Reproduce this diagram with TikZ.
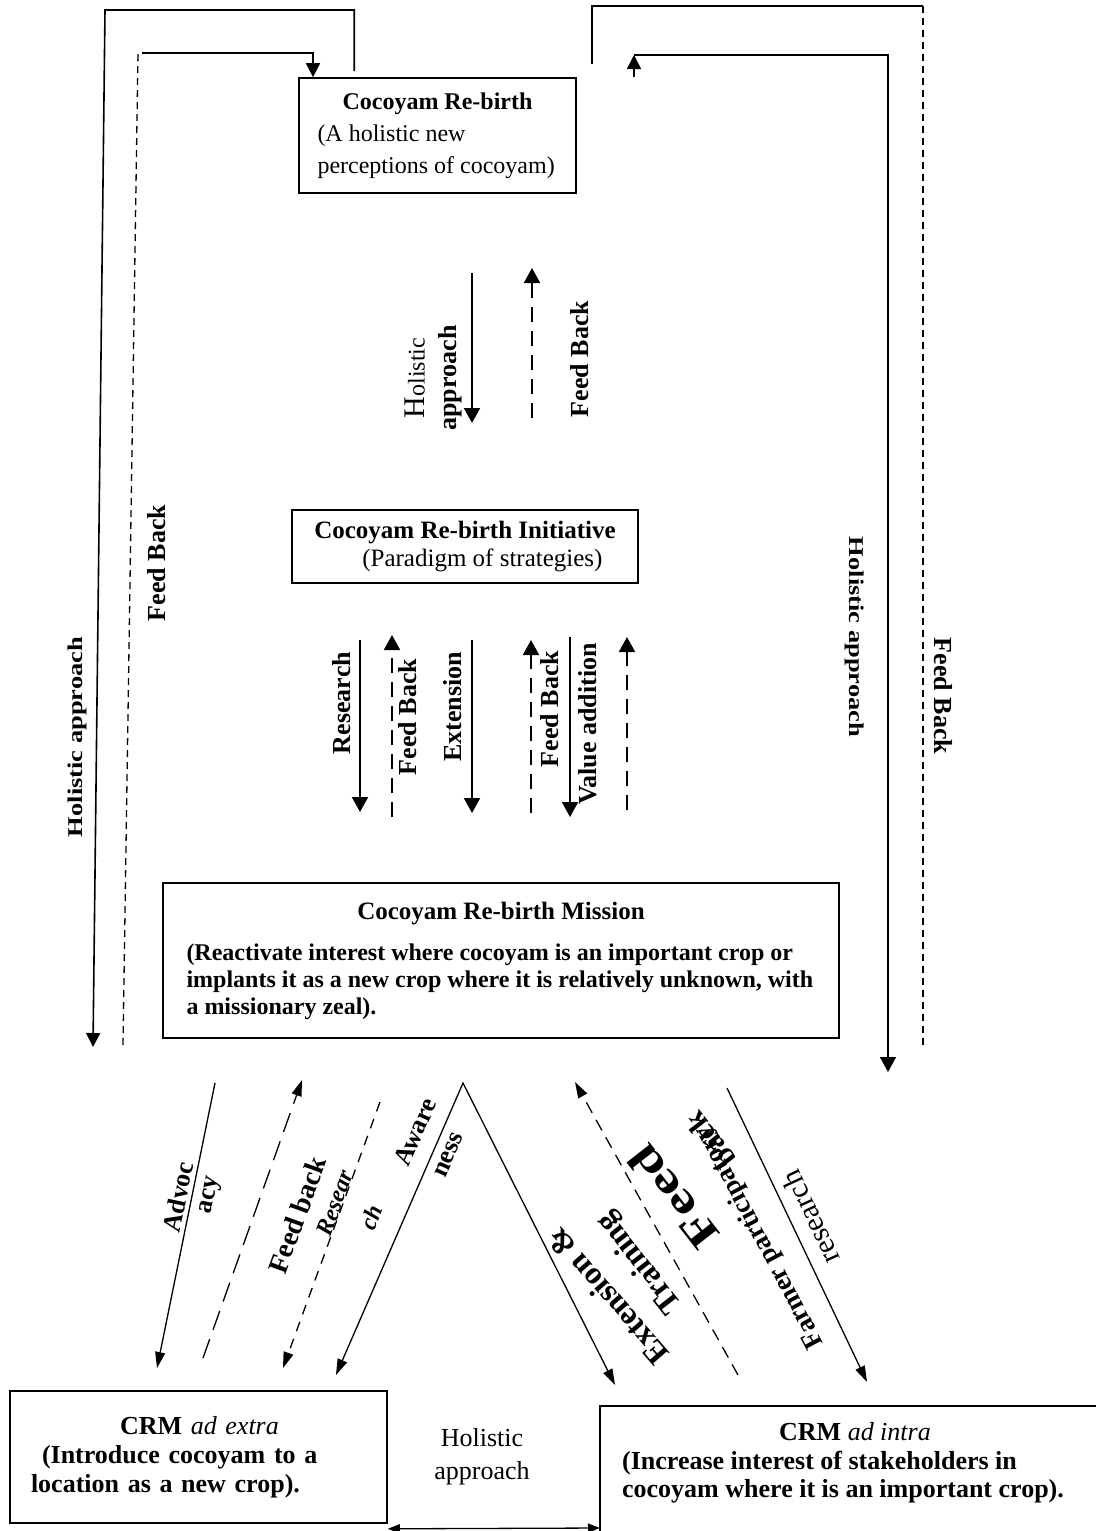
\documentclass[tikz,border=0pt]{standalone}
\usepackage{fontspec}
\setmainfont{Liberation Serif}
\usetikzlibrary{arrows.meta,calc}
\newcommand{\sz}[2]{\fontsize{#1}{#2}\selectfont}
\tikzset{
  box/.style={draw, line width=1.6pt, inner sep=0pt},
  ln/.style={line width=1.6pt},
  thin/.style={line width=1.3pt},
  tipA/.style={-{Triangle[width=14pt,length=14pt]}},
  tipB/.style={-{Triangle[width=16pt,length=15pt]}},
  tipC/.style={-{Triangle[width=10pt,length=16pt]}},
  dshA/.style={line width=1.3pt, dash pattern=on 7pt off 5pt},
  dshB/.style={line width=2pt, dash pattern=on 15pt off 9pt},
  lbl/.style={font=\bfseries\sz{26}{26}, inner sep=0pt},
}
\begin{document}
\begin{tikzpicture}[x=1pt,y=-1pt]
\useasboundingbox (0,0) rectangle (1096,1531);

% ---------- boxes ----------
\node[box, minimum width=277pt, minimum height=115pt, align=left, font=\sz{24}{32}] (rb) at (437.5,135.5)
  {\makebox[240pt][c]{\bfseries Cocoyam Re-birth}\\(A holistic new\\perceptions of cocoyam)};

\node[box, minimum width=346pt, minimum height=73pt, align=left, font=\sz{25}{28}] (ini) at (465,546.5)
  {\textbf{Cocoyam Re-birth Initiative}\\\hspace*{48pt}(Paradigm of strategies)};

\node[box, minimum width=676pt, minimum height=155pt, align=left, font=\bfseries\sz{24}{27}] (ms) at (501,960.5)
  {\makebox[629pt][c]{\sz{25}{27}Cocoyam Re-birth Mission}\\[14pt](Reactivate interest where cocoyam is an important crop or\\implants it as a new crop where it is relatively unknown, with\\a missionary zeal).};

\node[box, text width=357pt, inner sep=10pt, minimum height=132pt, align=left, font=\bfseries\sz{26}{29}] (extra) at (198.5,1457)
  {\hspace*{100pt}CRM \textit{\mdseries ad extra}\\\hspace*{22pt}(Introduce cocoyam to a\\\hspace*{11pt}location as a new crop).};

\node[align=left, inner sep=0pt, font=\bfseries\sz{26}{28.5}] (intra) at (843,1463)
  {\hspace*{157pt}CRM \textit{\mdseries ad intra}\\(Increase interest of stakeholders in\\cocoyam where it is an important crop).};
\draw[ln] (600,1531) -- (600,1406) -- (1096,1406);

\node[align=center, inner sep=0pt, font=\sz{26}{33}] (ha) at (482,1457) {Holistic\\approach};

% ---------- coordinates ----------
\coordinate (la) at (93,1047);
\coordinate (lf) at (123,1045);
\coordinate (ra) at (888,1072);
\coordinate (rf) at (923,1047);
\coordinate (c1) at (313,53);
\coordinate (c2) at (634,55);

% ---------- outer loops ----------
\draw[ln, tipA] ($(rb.north west)+(56,-6)$) |- (105,10) -- (la);
\draw[dshA] (lf) -- (138,53);
\draw[ln, tipA] (142,53) -- (c1) -- (c1 |- rb.north);
\draw[ln] ($(rb.north west)+(294,-13)$) |- (923,6);
\draw[dshA] (923,6) -- (rf);
\draw[ln, tipA] (c2 |- rb.north) -- (c2);
\draw[ln, tipB] (c2) -- (888,55) -- (ra);

% side labels
\node[lbl, rotate=90] (lha) at (77,737) {\sz{21}{21}\scalebox{1.26}[1]{Holistic approach}};
\node[lbl, rotate=90] (lfb) at (157,563) {Feed Back};
\node[lbl, rotate=-90] (rha) at (855,637) {\sz{21}{21}\scalebox{1.26}[1]{Holistic approach}};
\node[lbl, rotate=-90] (rfb) at (943,696) {Feed Back};

% ---------- rb -> ini ----------
\coordinate (m1a) at (472,273); \coordinate (m1b) at (472,423);
\coordinate (m2a) at (532,418); \coordinate (m2b) at (532,268);
\draw[line width=2pt, tipB] (m1a) -- (m1b);
\draw[dshB, tipB] (m2a) -- (m2b);
\node[inner sep=0pt, rotate=90, font=\sz{24}{24}] (hol) at (415,378) {{\sz{30}{30}H}olistic};
\node[lbl, rotate=90] (app) at (450,378) {approach};
\node[lbl, rotate=90] (fbt) at (580,359) {Feed Back};

% ---------- ini -> ms ----------
\coordinate (r1) at (360,640); \coordinate (r2) at (360,812);
\coordinate (f1) at (392,817); \coordinate (f2) at (392,635);
\coordinate (e1) at (472,640); \coordinate (e2) at (472,813);
\coordinate (g1) at (531,813); \coordinate (g2) at (531,640);
\coordinate (v1) at (570,637); \coordinate (v2) at (570,817);
\coordinate (d1) at (627,810); \coordinate (d2) at (627,637);
\draw[line width=2pt, tipB] (r1) -- (r2);
\draw[dshB, tipB] (f1) -- (f2);
\draw[line width=2pt, tipB] (e1) -- (e2);
\draw[dshB, tipB] (g1) -- (g2);
\draw[line width=2pt, tipB] (v1) -- (v2);
\draw[dshB, tipB] (d1) -- (d2);
\node[lbl, rotate=90] at (342,703) {Research};
\node[lbl, rotate=90] at (408,717) {Feed Back};
\node[lbl, rotate=90] at (453,707) {Extension};
\node[lbl, rotate=90] at (550,709) {Feed Back};
\node[lbl, rotate=90] at (588,724) {Value addition};

% ---------- ms -> bottom boxes ----------
\coordinate (a1) at (215,1083); \coordinate (a2) at (157,1368);
\coordinate (b1) at (203,1358); \coordinate (b2) at (302,1080);
\coordinate (s1) at (380,1102); \coordinate (s2) at (283,1368);
\coordinate (ap) at (463,1083); \coordinate (vl) at (336,1375); \coordinate (vr) at (615,1385);
\coordinate (h1) at (738,1375); \coordinate (h2) at (575,1082);
\coordinate (p1) at (727,1088); \coordinate (p2) at (867,1382);
\draw[thin, tipC] (a1) -- (a2);
\draw[line width=1.3pt, dash pattern=on 20pt off 10pt, tipC] (b1) -- (b2);
\draw[line width=1.3pt, dash pattern=on 10pt off 8pt, tipC] (s1) -- (s2);
\draw[thin, {Triangle[width=10pt,length=16pt]}-{Triangle[width=10pt,length=16pt]}] (vl) -- (ap) -- (vr);
\draw[line width=1.3pt, dash pattern=on 12pt off 8pt, tipC] (h1) -- (h2);
\draw[thin, tipC] (p1) -- (p2);
\draw[thin, {Triangle[width=9pt,length=12pt]}-{Triangle[width=9pt,length=12pt]}] ([yshift=-5pt]extra.south east) -- (600,1528);

\node[lbl, rotate=78] at (178,1197) {Advoc};
\node[lbl, rotate=78] at (211,1195) {acy};
\node[inner sep=0pt, rotate=70, font=\bfseries\sz{28}{28}] at (297,1215) {Feed back};
\node[inner sep=0pt, rotate=70, font=\bfseries\itshape\sz{24}{24}] at (335,1203) {Resear};
\node[inner sep=0pt, rotate=70, font=\bfseries\itshape\sz{24}{24}] at (371,1217) {ch};
\node[lbl, rotate=66] at (415,1132) {Aware};
\node[lbl, rotate=66] at (449,1155) {ness};
\node[inner sep=0pt, rotate=131, font=\bfseries\sz{32}{32}] at (607,1297) {Extension \&};
\node[inner sep=0pt, rotate=128, font=\bfseries\sz{32}{32}] at (640,1262) {Training};
\node[inner sep=0pt, rotate=128, font=\bfseries\sz{44}{44}] at (673,1197) {\scalebox{1.3}[1]{Feed}};
\node[inner sep=0pt, rotate=128, font=\bfseries\sz{30}{30}] at (710,1140) {back};
\node[inner sep=0pt, rotate=118, font=\bfseries\sz{27}{27}] at (760,1237) {Farmer participatory};
\node[inner sep=0pt, rotate=115, font=\sz{30}{30}] at (810,1218) {research};
\end{tikzpicture}
\end{document}
